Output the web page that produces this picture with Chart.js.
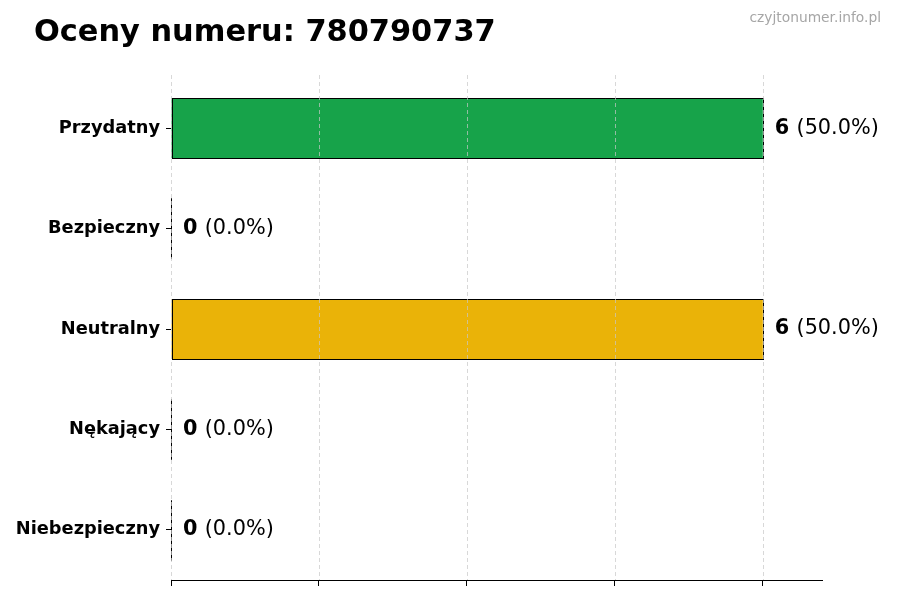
<!DOCTYPE html>
<html>
<head>
<meta charset="utf-8">
<script src="https://cdn.jsdelivr.net/npm/chart.js@4"></script>
<style>
  html, body { margin: 0; padding: 0; background: #fff; }
  canvas { display: block; }
</style>
</head>
<body>
<canvas id="ratingChart" width="900" height="600"></canvas>
<script>
// Data
const categories = ['Przydatny', 'Bezpieczny', 'Neutralny', 'Nękający', 'Niebezpieczny'];
const counts = [6, 0, 6, 0, 0];
const percents = [50.0, 0.0, 50.0, 0.0, 0.0];
const barColors = ['#17a34a', '#3b82f6', '#eab308', '#f97316', '#dc2626'];
const xTicks = [0, 1.5, 3, 4.5, 6];

const titleText = 'Oceny numeru: 780790737';
const watermark = 'czyjtonumer.info.pl';
const FONT = '"DejaVu Sans", sans-serif';

// Title, watermark, bar outlines, grid on top and value labels
const decorations = {
    id: 'decorations',
    afterDatasetsDraw(chart) {
        const ctx = chart.ctx;
        const area = chart.chartArea;
        const xScale = chart.scales.x;
        const meta = chart.getDatasetMeta(0);

        ctx.save();
        // bar outlines (also shows zero bars as a line)
        ctx.strokeStyle = '#000';
        ctx.lineWidth = 1;
        meta.data.forEach(bar => {
            const top = Math.round(bar.y - bar.height / 2) + 0.5;
            const left = Math.round(bar.base) + 0.5;
            ctx.strokeRect(left, top, Math.round(bar.x - bar.base), Math.round(bar.height));
        });

        // dashed vertical grid drawn over the bars
        ctx.strokeStyle = 'rgba(200,200,200,0.7)';
        ctx.setLineDash([4, 3]);
        xTicks.forEach(v => {
            const px = Math.round(xScale.getPixelForValue(v)) + 0.5;
            ctx.beginPath();
            ctx.moveTo(px, area.top - 3);
            ctx.lineTo(px, area.bottom);
            ctx.stroke();
        });
        ctx.setLineDash([]);

        // value labels
        ctx.textBaseline = 'middle';
        ctx.textAlign = 'left';
        meta.data.forEach((bar, i) => {
            const x = bar.x + 12;
            const y = bar.y;
            const countStr = String(counts[i]);
            ctx.fillStyle = '#000';
            ctx.font = 'bold 20.8px ' + FONT;
            ctx.fillText(countStr, x, y);
            const w = ctx.measureText(countStr + ' ').width;
            ctx.font = '20.8px ' + FONT;
            ctx.fillText('(' + percents[i].toFixed(1) + '%)', x + w, y);
        });
        ctx.restore();
    },
    afterDraw(chart) {
        const ctx = chart.ctx;
        ctx.save();
        ctx.textBaseline = 'alphabetic';
        ctx.fillStyle = '#000';
        ctx.font = 'bold 30.4px ' + FONT;
        ctx.textAlign = 'left';
        ctx.fillText(titleText, 34, 41);

        ctx.fillStyle = '#a6a6a6';
        ctx.font = '13.8px ' + FONT;
        ctx.textAlign = 'right';
        ctx.fillText(watermark, 881, 22);
        ctx.restore();
    }
};

const ctx = document.getElementById('ratingChart').getContext('2d');
const ratingChart = new Chart(ctx, {
    type: 'bar',
    data: {
        labels: categories,
        datasets: [{
            data: counts,
            backgroundColor: barColors,
            borderWidth: 0,
            barPercentage: 0.6,
            categoryPercentage: 1.0
        }]
    },
    options: {
        indexAxis: 'y',
        responsive: false,
        animation: false,
        devicePixelRatio: 1,
        layout: {
            padding: { left: 0, top: 78, right: 78, bottom: 0 }
        },
        plugins: {
            legend: { display: false },
            tooltip: { enabled: false }
        },
        scales: {
            x: {
                min: 0,
                max: 6.6,
                afterFit(scale) { scale.height = 20; },
                afterBuildTicks(scale) {
                    scale.ticks = xTicks.map(v => ({ value: v }));
                },
                ticks: {
                    callback: () => '',
                    padding: 0
                },
                grid: {
                    drawOnChartArea: false,
                    tickLength: 6,
                    tickColor: '#000',
                    tickWidth: 1
                },
                border: { display: true, color: '#000', width: 1 }
            },
            y: {
                afterFit(scale) { scale.width = 171; },
                ticks: {
                    color: '#000',
                    padding: 6,
                    font: { family: FONT, size: 17.8, weight: 'bold' }
                },
                grid: {
                    offset: false,
                    drawOnChartArea: false,
                    tickLength: 5,
                    tickColor: '#000',
                    tickWidth: 1
                },
                border: { display: false }
            }
        }
    },
    plugins: [decorations]
});
</script>
</body>
</html>
